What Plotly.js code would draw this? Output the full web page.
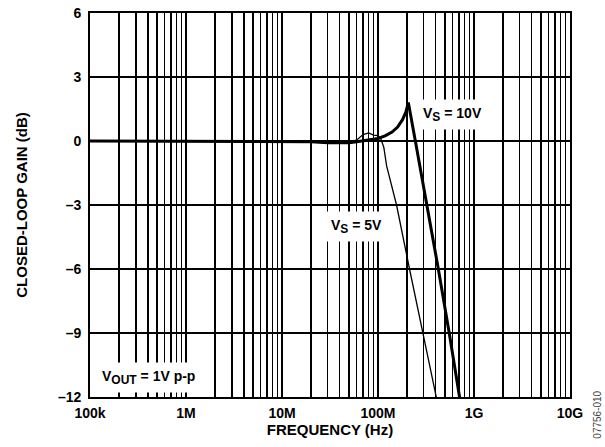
<!DOCTYPE html>
<html><head><meta charset="utf-8">
<script src="https://cdn.plot.ly/plotly-3.0.1.min.js"></script>
<style>html,body{margin:0;padding:0;background:#fff}#chart{width:605px;height:447px}</style>
</head><body><div id="chart"></div>
<script>
// Data
const freq10V = [1e5, 1e6, 1e7, 2e7, 3e7, 4e7, 5e7, 6e7, 8e7, 1e8, 1.2e8, 1.4e8, 1.6e8, 1.8e8, 1.95e8, 2.07e8, 2.45e8, 3.48e8, 4.25e8, 5.52e8, 7.15e8, 8e8];
const gain10V = [0, 0, 0, -0.03, -0.08, -0.1, -0.08, -0.04, 0.05, 0.12, 0.25, 0.42, 0.65, 1.0, 1.35, 1.8, 0, -3.7, -6, -9, -12, -13.5];
const freq5V = [1e5, 1e6, 1e7, 2e7, 3e7, 4e7, 5e7, 6e7, 7e7, 8e7, 9e7, 1e8, 1.07e8, 1.15e8, 1.23e8, 1.5e8, 1.56e8, 2.13e8, 2.96e8, 4.08e8, 4.5e8];
const gain5V = [0, 0, 0, -0.03, -0.08, -0.1, -0.06, 0.05, 0.3, 0.38, 0.28, 0.25, 0.1, -0.3, -1.17, -2.66, -3, -6, -9, -12, -13];
const xTickVals = [1e5, 1e6, 1e7, 1e8, 1e9, 1e10];
const xTickText = ['100k', '1M', '10M', '100M', '1G', '10G'];
const yTickVals = [-12, -9, -6, -3, 0, 3, 6];
const yTickText = ['–12', '–9', '–6', '–3', '0', '3', '6'];

const minorVals = [];
for (let d = 5; d < 10; d++) for (let m = 2; m <= 9; m++) minorVals.push(m * Math.pow(10, d));

const fam = 'Liberation Sans, Arial, sans-serif';
const sub = s => '<sub><span style="font-size:12px">' + s + '</span></sub>';
const traces = [
  {x: freq5V, y: gain5V, mode: 'lines', line: {color: '#000', width: 1.3}, hoverinfo: 'skip'},
  {x: freq10V, y: gain10V, mode: 'lines', line: {color: '#000', width: 3}, hoverinfo: 'skip'}
];
const annFont = {family: fam, size: 14, color: '#000', weight: 'bold'};
const layout = {
  width: 605, height: 447,
  margin: {l: 90, r: 35, t: 13, b: 50},
  paper_bgcolor: '#fff', plot_bgcolor: '#fff',
  showlegend: false,
  font: {family: fam, color: '#000'},
  xaxis: {
    type: 'log', range: [5, 10],
    tickmode: 'array', tickvals: xTickVals, ticktext: xTickText,
    showgrid: true, gridcolor: '#000', gridwidth: 1.8,
    minor: {tickmode: 'array', tickvals: minorVals, showgrid: true, gridcolor: '#000', gridwidth: 1.4, ticks: ''},
    ticks: '', showline: true, linecolor: '#000', linewidth: 1.8, mirror: true,
    zeroline: false, ticklabelstandoff: 2,
    tickfont: {family: fam, size: 14, color: '#000', weight: 'bold'},
    title: {text: 'FREQUENCY (Hz)', font: {family: fam, size: 15, color: '#000', weight: 'bold'}, standoff: 4}
  },
  yaxis: {
    range: [-12, 6],
    tickmode: 'array', tickvals: yTickVals, ticktext: yTickText,
    showgrid: true, gridcolor: '#000', gridwidth: 1.5,
    ticks: '', showline: true, linecolor: '#000', linewidth: 1.8, mirror: true,
    zeroline: false, ticklabelstandoff: 4,
    tickfont: {family: fam, size: 14, color: '#000', weight: 'bold'},
    title: {text: 'CLOSED-LOOP GAIN (dB)', font: {family: fam, size: 15, color: '#000', weight: 'bold'}, standoff: 27}
  },
  annotations: [
    {xref: 'paper', yref: 'paper', x: 0.682, y: 0.735, text: 'V' + sub('S') + ' = 10V', showarrow: false,
     bgcolor: '#fff', borderpad: 5, font: annFont, xanchor: 'left', yanchor: 'middle'},
    {xref: 'paper', yref: 'paper', x: 0.49, y: 0.445, text: 'V' + sub('S') + ' = 5V', showarrow: false,
     bgcolor: '#fff', borderpad: 5, font: annFont, xanchor: 'left', yanchor: 'middle'},
    {xref: 'paper', yref: 'paper', x: 0.012, y: 0.05, text: 'V' + sub('OUT') + ' = 1V p-p', showarrow: false,
     bgcolor: '#fff', borderpad: 5, font: annFont, xanchor: 'left', yanchor: 'middle'},
    {xref: 'paper', yref: 'paper', x: 1.057, y: -0.045, text: '07756-010', showarrow: false, textangle: -90,
     font: {family: fam, size: 10, color: '#444'}, xanchor: 'center', yanchor: 'middle'}
  ]
};
Plotly.newPlot('chart', traces, layout, {displayModeBar: false, staticPlot: true});
</script>
</body></html>
